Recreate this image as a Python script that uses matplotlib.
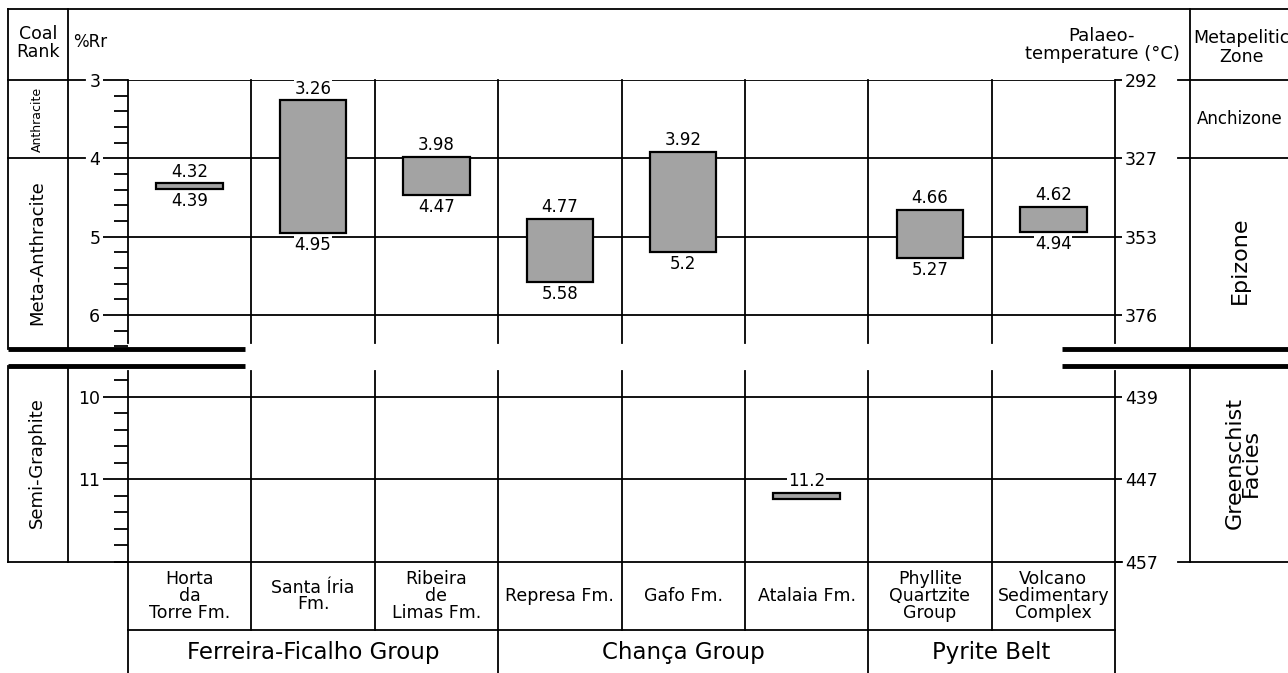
import numpy as np
import matplotlib.pyplot as plt
from matplotlib.transforms import blended_transform_factory

# formations (columns) and %Rr ranges
formations = ['Horta\nda\nTorre Fm.', 'Santa Íria\nFm.', 'Ribeira\nde\nLimas Fm.',
              'Represa Fm.', 'Gafo Fm.', 'Atalaia Fm.',
              'Phyllite\nQuartzite\nGroup', 'Volcano\nSedimentary\nComplex']
rr_min = [4.32, 3.26, 3.98, 4.77, 3.92, 11.2, 4.66, 4.62]
rr_max = [4.39, 4.95, 4.47, 5.58, 5.2, 11.2, 5.27, 4.94]

groups = ['Ferreira-Ficalho Group', 'Chança Group', 'Pyrite Belt']
group_sizes = [3, 3, 2]

rr_ticks_top = [3, 4, 5, 6]
temp_top = ['292', '327', '353', '376']
rr_ticks_bot = [10, 11]
temp_ticks_bot = [10, 11, 12]
temp_bot = ['439', '447', '457']

plt.rcParams['font.family'] = 'DejaVu Sans'
W, H = 1288, 673
LW = 1.3
fig = plt.figure(figsize=(W / 100, H / 100), dpi=100)

bg = fig.add_axes([0, 0, 1, 1])
bg.set_xlim(0, W)
bg.set_ylim(H, 0)
bg.axis('off')


def px_axes(x0, y0, x1, y1):
    return fig.add_axes([x0 / W, 1 - y1 / H, (x1 - x0) / W, (y1 - y0) / H])


ax_top = px_axes(128, 80, 1115, 349)
ax_bot = px_axes(128, 366, 1115, 562)
ax_top.set_ylim(6.434, 3)
ax_bot.set_ylim(12, 9.627)

for ax, lticks, rticks, rlabels in [(ax_top, rr_ticks_top, rr_ticks_top, temp_top),
                                     (ax_bot, rr_ticks_bot, temp_ticks_bot, temp_bot)]:
    lo, hi = ax.get_ylim()[1], ax.get_ylim()[0]
    ax.set_xlim(0, 8)
    ax.set_xticks([])
    ax.set_facecolor('none')
    ax.set_yticks(lticks)
    ax.set_yticklabels([str(t) for t in lticks])
    minor = np.round(np.arange(np.ceil(lo * 5) / 5, hi + 1e-6, 0.2), 1)
    ax.set_yticks(minor, minor=True)
    ax.tick_params(axis='y', which='major', length=18, width=LW, pad=2, labelsize=12.5)
    ax.tick_params(axis='y', which='minor', length=10, width=LW)
    ax.yaxis.grid(True, which='major', color='k', lw=LW)
    ax.set_axisbelow(True)
    tw = ax.twinx()
    tw.set_ylim(ax.get_ylim())
    tw.set_yticks(rticks)
    tw.set_yticklabels(rlabels)
    tw.tick_params(axis='y', length=5, width=LW, pad=2, labelsize=12.5)
    for a in (ax, tw):
        for s in a.spines.values():
            s.set_visible(False)

# extensions of rank lines into side columns
for v in [3, 4]:
    ax_top.axhline(v, xmin=-0.1216, xmax=-0.044, color='k', lw=LW, clip_on=False)
    ax_top.axhline(v, xmin=1.0638, xmax=1.18, color='k', lw=LW, clip_on=False)
ax_bot.axhline(12, xmin=-0.1216, xmax=1.007, color='k', lw=LW, clip_on=False)
ax_bot.axhline(12, xmin=1.0638, xmax=1.18, color='k', lw=LW, clip_on=False)

# column lines (x in data, y in pixels)
tr = blended_transform_factory(ax_top.transData, bg.transData)
for i in range(9):
    bg.plot([i, i], [80, 343], color='k', lw=LW, transform=tr)
    bg.plot([i, i], [371, 630], color='k', lw=LW, transform=tr)
for i in np.cumsum([0] + group_sizes):
    bg.plot([i, i], [630, H], color='k', lw=LW, transform=tr)
bg.plot([0, 8], [630, 630], color='k', lw=LW, transform=tr)

# outer frame
for x in [8, 68, 1190]:
    bg.plot([x, x], [9, 349], color='k', lw=LW)
    bg.plot([x, x], [366, 562], color='k', lw=LW)
bg.plot([8, W], [9, 9], color='k', lw=LW)
bg.hlines([349, 366], 8, 245, color='k', lw=3.5)
bg.hlines([349, 366], 1062, W, color='k', lw=3.5)

# headers
bg.text(38, 43, 'Coal\nRank', ha='center', va='center', fontsize=12.5, linespacing=1.0)
bg.text(73, 42, '%Rr', ha='left', va='center', fontsize=12)
bg.text(1102, 45, 'Palaeo-\ntemperature (°C)', ha='center', va='center',
        fontsize=13, linespacing=0.95)
bg.text(1193, 47, 'Metapelitic', ha='left', va='bottom', fontsize=12.5)
bg.text(1242, 48, 'Zone', ha='center', va='top', fontsize=12.5)

# rank and zone labels
t_top = blended_transform_factory(bg.transData, ax_top.transData)
t_bot = blended_transform_factory(bg.transData, ax_bot.transData)
bg.text(37, 3.5, 'Anthracite', rotation=90, ha='center', va='center', fontsize=9, transform=t_top)
bg.text(37, 5.2, 'Meta-Anthracite', rotation=90, ha='center', va='center', fontsize=13, transform=t_top)
bg.text(37, 10.8, 'Semi-Graphite', rotation=90, ha='center', va='center', fontsize=13, transform=t_bot)
bg.text(1240, 3.5, 'Anchizone', ha='center', va='center', fontsize=12, transform=t_top)
bg.text(1240, 5.3, 'Epizone', rotation=90, ha='center', va='center', fontsize=16, transform=t_top)
bg.text(1243, 10.8, 'Greenschist\nFacies', rotation=90, ha='center', va='center', fontsize=16,
        linespacing=0.75, transform=t_bot)

# bars
for i, (lo, hi) in enumerate(zip(rr_min, rr_max)):
    ax = ax_top if hi < 7 else ax_bot
    x = i + 0.5
    bottom, h = lo, hi - lo
    if h < 0.05:
        bottom, h = (lo + hi) / 2 - 0.035, 0.07
    ax.bar(x, h, bottom=bottom, width=0.54, color='#a3a3a3', edgecolor='k', lw=1.6, zorder=3)
    box = dict(fc='white', ec='none', pad=0.5)
    ax.annotate(f'{lo:g}', (x, bottom), xytext=(0, 2), textcoords='offset points',
                ha='center', va='bottom', fontsize=12, bbox=box, zorder=4)
    if hi != lo:
        ax.annotate(f'{hi:g}', (x, bottom + h), xytext=(0, -2), textcoords='offset points',
                    ha='center', va='top', fontsize=12, bbox=box, zorder=4)

# formation and group labels
for i, name in enumerate(formations):
    bg.text(i + 0.5, 596, name, ha='center', va='center', fontsize=12.5,
            linespacing=0.92, transform=tr)
start = 0
for name, n in zip(groups, group_sizes):
    bg.text(start + n / 2, 653, name, ha='center', va='center', fontsize=16.5, transform=tr)
    start += n

fig.savefig('out.png', dpi=100)
